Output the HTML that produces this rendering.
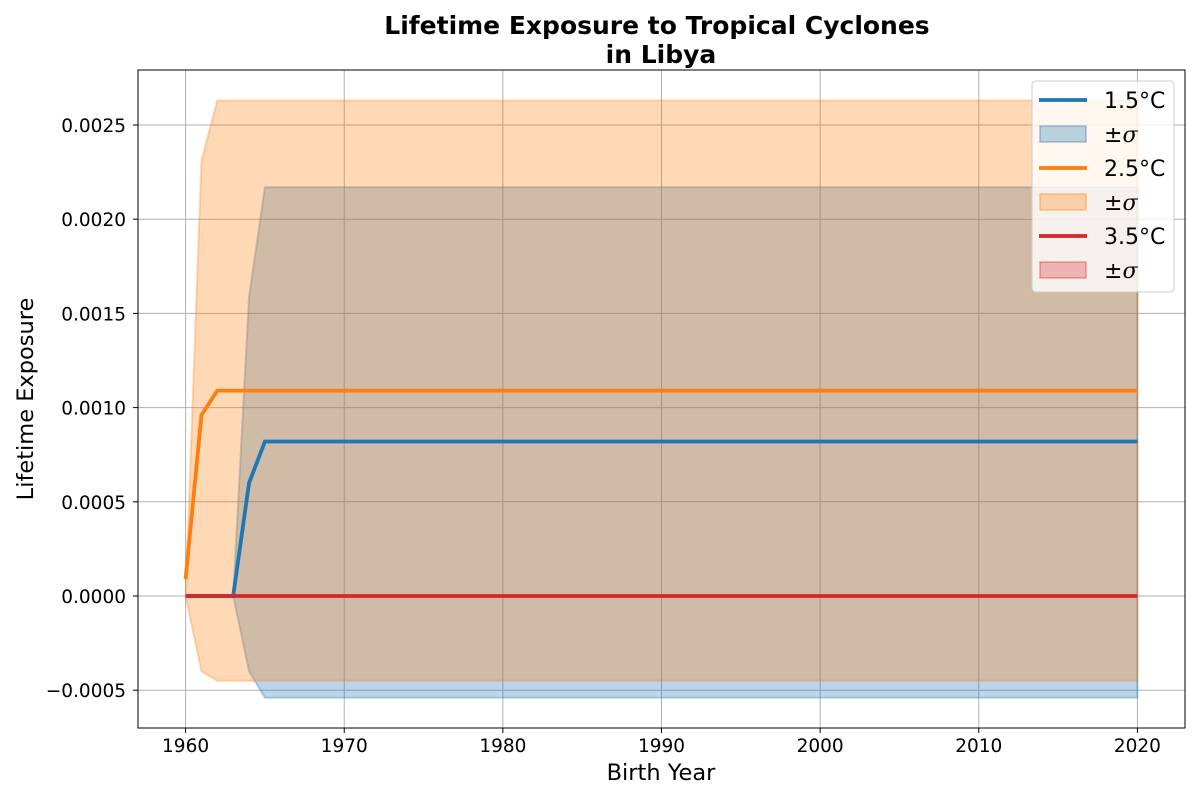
<!DOCTYPE html>
<html><head><meta charset="utf-8"><style>
body{margin:0;background:#fff;}
svg text{font-family:"DejaVu Sans","Liberation Sans",sans-serif;}
</style></head><body>
<svg id="chart" width="1200" height="800" xmlns="http://www.w3.org/2000/svg">
<rect width="1200" height="800" fill="#fff"/>
<g id="grid"></g>
<g id="bands"></g>
<g id="lines"></g>
<g id="axes"></g>
</svg>
<script>
const years=[];for(let y=1960;y<=2020;y++)years.push(y);
const s15=[0,0,0,0,0.0006,0.00082];
const s15Up=[0,0,0,0,0.00159,0.00217];
const s15Lo=[0,0,0,0,-0.0004,-0.00054];
const s25=[0.00009,0.00096,0.00109];
const s25Up=[0,0.00231,0.00263];
const s25Lo=[0,-0.0004,-0.00045];
const s35=[0];
const yTicks=[-0.0005,0,0.0005,0.001,0.0015,0.002,0.0025];
const yTickLabels=["\u22120.0005","0.0000","0.0005","0.0010","0.0015","0.0020","0.0025"];
const xTicks=[1960,1970,1980,1990,2000,2010,2020];
const L=138,R=1185,T=70,B=728;
const xMin=1957,xMax=2023,yMin=-0.0007006,yMax=0.002792;
const X=v=>L+(v-xMin)/(xMax-xMin)*(R-L);
const Y=v=>B-(v-yMin)/(yMax-yMin)*(B-T);
const ext=a=>years.map((_,i)=>a[Math.min(i,a.length-1)]);
const NS="http://www.w3.org/2000/svg";
function mk(tag,attrs,parent){const e=document.createElementNS(NS,tag);for(const k in attrs)e.setAttribute(k,attrs[k]);parent.appendChild(e);return e;}
const grid=document.getElementById('grid'),bands=document.getElementById('bands'),lines=document.getElementById('lines'),axes=document.getElementById('axes');
xTicks.forEach(t=>{const l=mk('line',{x1:X(t),x2:X(t),y1:T,y2:B,stroke:'#b0b0b0','stroke-width':1},grid);
});
yTicks.forEach(t=>{const l=mk('line',{x1:L,x2:R,y1:Y(t),y2:Y(t),stroke:'#b0b0b0','stroke-width':1},grid);
});
function band(up,lo,col,name){
 const u=ext(up),d=ext(lo);
 let p=years.map((y,i)=>X(y)+','+Y(u[i])).join(' ')+' '+years.slice().reverse().map((y,j)=>{const i=years.length-1-j;return X(y)+','+Y(d[i]);}).join(' ');
 const e=mk('polygon',{points:p,fill:col,'fill-opacity':0.3,stroke:col,'stroke-opacity':0.3,'stroke-width':2},bands);
 
}
function line(vals,col,name){
 const v=ext(vals);
 const e=mk('polyline',{points:years.map((y,i)=>X(y)+','+Y(v[i])).join(' '),fill:'none',stroke:col,'stroke-width':3.8},lines);
 
}
line(s15,'#1f77b4','line-1-5c');band(s15Up,s15Lo,'#1f77b4','band-1-5c');
line(s25,'#ff7f0e','line-2-5c');band(s25Up,s25Lo,'#ff7f0e','band-2-5c');
line(s35,'#d62728','line-3-5c');band([0],[0],'#d62728','band-3-5c');
const fr=mk('rect',{x:L,y:T,width:R-L,height:B-T,fill:'none',stroke:'#000','stroke-width':1},axes);

xTicks.forEach(t=>{mk('line',{x1:X(t),x2:X(t),y1:B,y2:B+5,stroke:'#000'},axes);
 const e=mk('text',{x:X(t),y:B+24,'font-size':18.5,'text-anchor':'middle'},axes);e.textContent=t;
 });
yTicks.forEach((t,i)=>{mk('line',{x1:L-5,x2:L,y1:Y(t),y2:Y(t),stroke:'#000'},axes);
 const e=mk('text',{x:L-12,y:Y(t)+7,'font-size':18.5,'text-anchor':'end'},axes);e.textContent=yTickLabels[i];
 });
let e=mk('text',{x:661,y:780,'font-size':22.5,'text-anchor':'middle'},axes);e.textContent='Birth Year';

e=mk('text',{x:33,y:399,'font-size':22.5,'text-anchor':'middle',transform:'rotate(-90 33 399)'},axes);e.textContent='Lifetime Exposure';

e=mk('text',{x:657,y:34,'font-size':25,'font-weight':'bold','text-anchor':'middle'},axes);e.textContent='Lifetime Exposure to Tropical Cyclones';

e=mk('text',{x:661,y:63,'font-size':25,'font-weight':'bold','text-anchor':'middle'},axes);e.textContent='in Libya';

const lg=mk('g',{},axes);
mk('rect',{x:1032,y:81,width:142,height:211,rx:4,fill:'#fff','fill-opacity':0.8,stroke:'#ccc','stroke-width':1},lg);
const leg=[['1.5°C','#1f77b4',0],['±σ','#1f77b4',1],['2.5°C','#ff7f0e',0],['±σ','#ff7f0e',1],['3.5°C','#d62728',0],['±σ','#d62728',1]];
leg.forEach((d,i)=>{const y=100+i*34;
 if(d[2])mk('rect',{x:1040,y:y-8,width:46,height:16,fill:d[1],'fill-opacity':0.3,stroke:d[1],'stroke-opacity':0.3,'stroke-width':2},lg);
 else mk('line',{x1:1039,x2:1087,y1:y,y2:y,stroke:d[1],'stroke-width':3.8},lg);
 const t=mk('text',{x:1104,y:y+8,'font-size':22},lg);
 if(d[2]){t.textContent='±';const ts=mk('tspan',{'font-style':'italic','font-family':'"DejaVu Serif",serif'},t);ts.textContent='σ';}
 else t.textContent=d[0];
 });
</script>
</body></html>
